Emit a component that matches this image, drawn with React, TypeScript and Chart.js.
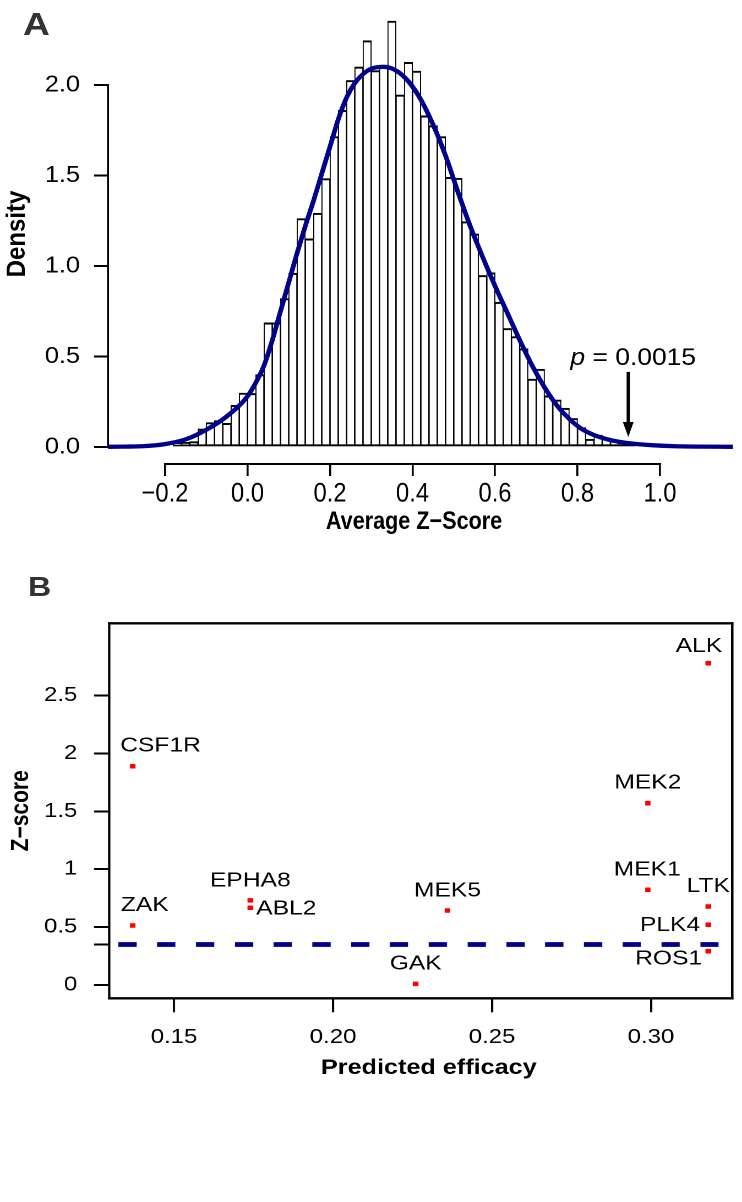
import React, { useEffect, useRef } from "react";
import { Chart, registerables } from "chart.js";

Chart.register(...registerables);

// ---------------- Panel A data ----------------
const binStarts = [
  -0.18, -0.16, -0.14, -0.12, -0.1, -0.08, -0.06, -0.04, -0.02,
  0, 0.02, 0.04, 0.06, 0.08, 0.1, 0.12, 0.14, 0.16, 0.18,
  0.2, 0.22, 0.24, 0.26, 0.28, 0.3, 0.32, 0.34, 0.36, 0.38,
  0.4, 0.42, 0.44, 0.46, 0.48, 0.5, 0.52, 0.54, 0.56, 0.58,
  0.6, 0.62, 0.64, 0.66, 0.68, 0.7, 0.72, 0.74, 0.76, 0.78,
  0.8, 0.82, 0.84, 0.86, 0.88, 0.9, 0.92,
];
const binDensity = [
  0.02, 0.026, 0.03, 0.1, 0.135, 0.146, 0.131, 0.23, 0.298,
  0.296, 0.4, 0.686, 0.686, 0.82, 0.96, 1.262, 1.15, 1.292, 1.483,
  1.715, 1.86, 2.025, 2.1, 2.245, 2.08, 2.11, 2.353, 1.945, 2.125,
  2.077, 1.83, 1.775, 1.715, 1.49, 1.485, 1.245, 1.177, 0.948, 0.963,
  0.8, 0.655, 0.61, 0.543, 0.375, 0.43, 0.283, 0.26, 0.214, 0.158,
  0.107, 0.043, 0.066, 0.048, 0.039, 0.03, 0.02,
];
const BIN_WIDTH = 0.02;

const curveZ = [
  -0.338, -0.3, -0.25, -0.2, -0.15, -0.1, -0.05, 0, 0.02, 0.04, 0.06, 0.08,
  0.1, 0.12, 0.14, 0.16, 0.18, 0.2, 0.22, 0.24, 0.26, 0.28, 0.3, 0.33, 0.36,
  0.39, 0.42, 0.45, 0.48, 0.51, 0.54, 0.57, 0.6, 0.63, 0.66, 0.69, 0.72, 0.75,
  0.78, 0.81, 0.84, 0.87, 0.9, 0.94, 0.98, 1.03, 1.1, 1.177,
];
const curveDensity = [
  0.001, 0.002, 0.005, 0.016, 0.042, 0.095, 0.17, 0.28, 0.355, 0.45, 0.59, 0.75,
  0.91, 1.07, 1.22, 1.36, 1.51, 1.66, 1.81, 1.93, 2.01, 2.06, 2.09, 2.1, 2.08,
  2.02, 1.92, 1.78, 1.61, 1.41, 1.22, 1.05, 0.89, 0.74, 0.59, 0.45, 0.33, 0.23,
  0.155, 0.1, 0.066, 0.044, 0.029, 0.017, 0.01, 0.005, 0.002, 0.001,
];

const densityTickValues = [0, 0.5, 1, 1.5, 2];
const densityTickLabels = ["0.0", "0.5", "1.0", "1.5", "2.0"];
const avgZTickValues = [-0.2, 0, 0.2, 0.4, 0.6, 0.8, 1.0];
const avgZTickLabels = ["\u22120.2", "0.0", "0.2", "0.4", "0.6", "0.8", "1.0"];
const avgZTitle = "Average Z\u2212Score";

const pValueText = "0.0015";
const pValueZ = 0.923;
const arrowTopDensity = 0.415;
const arrowTipDensity = 0.055;

// ---------------- Panel B data ----------------
const kinases = ["CSF1R", "ZAK", "EPHA8", "ABL2", "MEK5", "GAK", "MEK2", "MEK1", "ALK", "LTK", "PLK4", "ROS1"];
const predictedEfficacy = [0.137, 0.137, 0.174, 0.174, 0.236, 0.226, 0.299, 0.299, 0.318, 0.318, 0.318, 0.318];
const kinaseZScore = [1.889, 0.514, 0.731, 0.667, 0.643, 0.01, 1.57, 0.822, 2.779, 0.678, 0.52, 0.292];

const efficacyTickValues = [0.15, 0.2, 0.25, 0.3];
const efficacyTickLabels = ["0.15", "0.20", "0.25", "0.30"];
const zScoreTickValues = [0, 0.35, 0.5, 1, 1.5, 2, 2.5];
const zScoreTickLabels = ["0", "", "0.5", "1", "1.5", "2", "2.5"];

const thresholdZ = 0.35;
const thresholdFrom = 0.1325;
const thresholdTo = 0.3212;

// ---------------- layout / style ----------------
const FONT = "'Liberation Sans', Arial, Helvetica, sans-serif";
const NAVY = "#00008B";

const WA = 674; // logical width of panel A canvas
const SA = 742 / WA; // horizontal stretch of panel A
const HA = 560;
const WB = 618; // logical width of panel B canvas
const SB = 742 / WB; // horizontal stretch of panel B
const HB = 642;

// label placement relative to the marker (reference pixels): dx, dy, align
const LABEL_POS: Record<string, [number, number, CanvasTextAlign]> = {
  CSF1R: [-12.5, -20.5, "left"],
  ZAK: [-11.8, -20, "left"],
  EPHA8: [0, -19.5, "center"],
  ABL2: [5.9, 1, "left"],
  MEK5: [0, -19.7, "center"],
  GAK: [0, -20, "center"],
  MEK2: [0, -20.2, "center"],
  MEK1: [-0.6, -20, "center"],
  ALK: [-9.3, -17, "center"],
  LTK: [0, -20.2, "center"],
  PLK4: [-8.1, 0.7, "right"],
  ROS1: [-6.1, 7.6, "right"],
};

function zeroPad(s: any) {
  s.paddingTop = 0;
  s.paddingBottom = 0;
  s.paddingLeft = 0;
  s.paddingRight = 0;
}

// draws text horizontally condensed by factor k around (x, y)
function condensedText(ctx: CanvasRenderingContext2D, text: string, x: number, y: number, k: number) {
  ctx.save();
  ctx.translate(x, y);
  ctx.scale(k, 1);
  ctx.fillText(text, 0, 0);
  ctx.restore();
}

const panelAPlugin = {
  id: "panelAExtras",
  afterDatasetsDraw(chart: any) {
    const { ctx, chartArea } = chart;
    const x = chart.scales.x;
    const y = chart.scales.y;
    ctx.save();
    ctx.strokeStyle = "#000";
    ctx.fillStyle = "#000";
    ctx.lineCap = "butt";
    // y axis line (R style: from first to last tick)
    ctx.lineWidth = 2 / SA;
    ctx.beginPath();
    ctx.moveTo(chartArea.left, y.getPixelForValue(densityTickValues[0]) + 1);
    ctx.lineTo(chartArea.left, y.getPixelForValue(densityTickValues[densityTickValues.length - 1]) - 1);
    ctx.stroke();
    // x axis line
    ctx.lineWidth = 2;
    ctx.beginPath();
    ctx.moveTo(x.getPixelForValue(avgZTickValues[0]) - 1 / SA, chartArea.bottom + 1);
    ctx.lineTo(x.getPixelForValue(avgZTickValues[avgZTickValues.length - 1]) + 1 / SA, chartArea.bottom + 1);
    ctx.stroke();
    // x tick labels and title (condensed, as in the original)
    ctx.textAlign = "center";
    ctx.textBaseline = "middle";
    ctx.font = `27px ${FONT}`;
    avgZTickValues.forEach((v, i) => {
      condensedText(ctx, avgZTickLabels[i], x.getPixelForValue(v), chartArea.bottom + 31, 0.8);
    });
    ctx.font = `bold 25px ${FONT}`;
    condensedText(ctx, avgZTitle, 414 / SA, chartArea.bottom + 59, 0.785);
    // arrow
    const ax = x.getPixelForValue(pValueZ);
    const aTop = y.getPixelForValue(arrowTopDensity);
    const aTip = y.getPixelForValue(arrowTipDensity);
    const headLen = 15;
    const headHalf = 5.4 / SA;
    ctx.lineWidth = 3.3 / SA;
    ctx.beginPath();
    ctx.moveTo(ax, aTop);
    ctx.lineTo(ax, aTip - headLen + 2);
    ctx.stroke();
    ctx.beginPath();
    ctx.moveTo(ax - headHalf, aTip - headLen);
    ctx.lineTo(ax + headHalf, aTip - headLen);
    ctx.lineTo(ax, aTip);
    ctx.closePath();
    ctx.fill();
    // p-value text
    const fi = `italic 24px ${FONT}`;
    const fr = `24px ${FONT}`;
    const rest = " = " + pValueText;
    ctx.font = fi;
    const w1 = ctx.measureText("p").width;
    ctx.font = fr;
    const w2 = ctx.measureText(rest).width;
    const cx = ax + 5 / SA;
    const base = aTop - 6.7;
    const sx = cx - (w1 + w2) / 2;
    ctx.textBaseline = "alphabetic";
    ctx.textAlign = "left";
    ctx.font = fi;
    ctx.fillText("p", sx, base);
    ctx.font = fr;
    ctx.fillText(rest, sx + w1, base);
    ctx.restore();
  },
};

const panelBPlugin = {
  id: "panelBExtras",
  afterDatasetsDraw(chart: any) {
    const { ctx, chartArea } = chart;
    const x = chart.scales.x;
    const y = chart.scales.y;
    ctx.save();
    // labels
    ctx.fillStyle = "#000";
    ctx.font = `20.5px ${FONT}`;
    ctx.textBaseline = "middle";
    kinases.forEach((name, i) => {
      const [dx, dy, align] = LABEL_POS[name];
      const px = x.getPixelForValue(predictedEfficacy[i]);
      const py = y.getPixelForValue(kinaseZScore[i]);
      ctx.textAlign = align;
      ctx.fillText(name, px + dx / SB, py + dy);
    });
    // x axis title
    ctx.font = `bold 21px ${FONT}`;
    ctx.textAlign = "center";
    ctx.fillText("Predicted efficacy", (chartArea.left + chartArea.right) / 2 + 8 / SB, 508);
    // box
    ctx.strokeStyle = "#000";
    const { left, right, top, bottom } = chartArea;
    ctx.lineWidth = 2.4;
    ctx.beginPath();
    ctx.moveTo(left - 1, top);
    ctx.lineTo(right + 1, top);
    ctx.moveTo(left - 1, bottom);
    ctx.lineTo(right + 1, bottom);
    ctx.stroke();
    ctx.lineWidth = 2.3 / SB;
    ctx.beginPath();
    ctx.moveTo(left, top - 1);
    ctx.lineTo(left, bottom + 1);
    ctx.moveTo(right, top - 1);
    ctx.lineTo(right, bottom + 1);
    ctx.stroke();
    ctx.restore();
  },
};

function makeChartA(canvas: HTMLCanvasElement) {
  const barData = binStarts.map((s, i) => ({ x: s + BIN_WIDTH / 2, y: binDensity[i] }));
  const curveData = curveZ.map((z, i) => ({ x: z, y: curveDensity[i] }));
  const xMin = (108 - 247.5) / 412.5;
  const xMax = (733 - 247.5) / 412.5;
  return new Chart(canvas, {
    type: "bar",
    data: {
      datasets: [
        {
          type: "line",
          data: curveData,
          borderColor: NAVY,
          borderWidth: 4.3,
          pointRadius: 0,
          cubicInterpolationMode: "monotone",
          order: 0,
        } as any,
        {
          type: "bar",
          data: barData,
          backgroundColor: "#ffffff",
          borderColor: "#000000",
          borderWidth: { top: 2, left: 1, right: 1, bottom: 2 },
          borderSkipped: false,
          barPercentage: 1,
          categoryPercentage: 1,
          order: 1,
        } as any,
      ],
    },
    options: {
      responsive: false,
      animation: false,
      devicePixelRatio: 2,
      events: [],
      layout: { padding: { left: 0, right: 9 / SA, top: 5, bottom: 20 } },
      plugins: { legend: { display: false }, tooltip: { enabled: false } },
      scales: {
        x: {
          type: "linear",
          offset: false,
          min: xMin,
          max: xMax,
          afterBuildTicks: (s: any) => {
            s.ticks = avgZTickValues.map((v) => ({ value: v }));
          },
          afterFit: (s: any) => {
            s.height = 77;
            zeroPad(s);
          },
          ticks: { display: false, autoSkip: false, maxRotation: 0 },
          grid: { offset: false, drawOnChartArea: false, drawTicks: true, tickLength: 13, color: "#000", lineWidth: 2 / SA },
          border: { display: false },
          title: { display: false },
        },
        y: {
          type: "linear",
          min: (447 - 463) / 181,
          max: (447 - 5) / 181,
          afterBuildTicks: (s: any) => {
            s.ticks = densityTickValues.map((v) => ({ value: v }));
          },
          afterFit: (s: any) => {
            s.width = 108 / SA;
            zeroPad(s);
          },
          ticks: {
            callback: (_v: any, i: number) => densityTickLabels[i],
            font: { family: FONT, size: 23 },
            color: "#000",
            padding: 14 / SA,
            autoSkip: false,
          },
          grid: { drawOnChartArea: false, drawTicks: true, tickLength: 14 / SA, color: "#000", lineWidth: 2 },
          border: { display: false },
          title: {
            display: true,
            text: "Density",
            font: { family: FONT, size: 24, weight: "bold" },
            color: "#000",
            padding: { top: Math.max(0, 17.5 / SA - 14.4), bottom: 0 },
          },
        },
      },
    } as any,
    plugins: [panelAPlugin],
  });
}

function makeChartB(canvas: HTMLCanvasElement) {
  const pts = predictedEfficacy.map((e, i) => ({ x: e, y: kinaseZScore[i] }));
  const threshold = [
    { x: thresholdFrom, y: thresholdZ },
    { x: thresholdTo, y: thresholdZ },
  ];
  const xMin = 0.15 + (109.3 - 174) / 3180;
  const xMax = 0.15 + (732.3 - 174) / 3180;
  const yMin = (985 - 998.3) / 115.8;
  const yMax = (985 - 623.3) / 115.8;
  return new Chart(canvas, {
    type: "scatter",
    data: {
      datasets: [
        {
          type: "scatter",
          data: pts,
          pointStyle: "rect",
          pointRadius: 3.2,
          backgroundColor: "#ff0000",
          borderWidth: 0,
          order: 0,
        } as any,
        {
          type: "line",
          data: threshold,
          borderColor: NAVY,
          borderWidth: 4.7,
          borderDash: [18.3 / SB, 20.5 / SB],
          pointRadius: 0,
          order: 1,
        } as any,
      ],
    },
    options: {
      responsive: false,
      animation: false,
      devicePixelRatio: 2,
      events: [],
      layout: { padding: { left: 0, right: (742 - 732.3) / SB, top: 63.3, bottom: 102 } },
      plugins: { legend: { display: false }, tooltip: { enabled: false } },
      scales: {
        x: {
          type: "linear",
          offset: false,
          min: xMin,
          max: xMax,
          afterBuildTicks: (s: any) => {
            s.ticks = efficacyTickValues.map((v) => ({ value: v }));
          },
          afterFit: (s: any) => {
            s.height = 540 - 438.3;
            zeroPad(s);
          },
          ticks: {
            callback: (_v: any, i: number) => efficacyTickLabels[i],
            font: { family: FONT, size: 20 },
            color: "#000",
            padding: 13.2,
            maxRotation: 0,
            autoSkip: false,
          },
          grid: { offset: false, drawOnChartArea: false, drawTicks: true, tickLength: 14, color: "#000", lineWidth: 2 / SB },
          border: { display: false },
          title: { display: false },
        },
        y: {
          type: "linear",
          min: yMin,
          max: yMax,
          afterBuildTicks: (s: any) => {
            s.ticks = zScoreTickValues.map((v) => ({ value: v }));
          },
          afterFit: (s: any) => {
            s.width = 109.3 / SB;
            zeroPad(s);
          },
          ticks: {
            callback: (_v: any, i: number) => zScoreTickLabels[i],
            font: { family: FONT, size: 20 },
            color: "#000",
            padding: 16.7 / SB,
            autoSkip: false,
          },
          grid: { drawOnChartArea: false, drawTicks: true, tickLength: 15.3 / SB, color: "#000", lineWidth: 2 },
          border: { display: false },
          title: {
            display: true,
            text: "Z\u2212score",
            font: { family: FONT, size: 21, weight: "bold" },
            color: "#000",
            padding: { top: 21 / SB - 12.6, bottom: 0 },
          },
        },
      },
    } as any,
    plugins: [panelBPlugin],
  });
}

export default function App() {
  const refA = useRef<HTMLCanvasElement | null>(null);
  const refB = useRef<HTMLCanvasElement | null>(null);

  useEffect(() => {
    const a = refA.current ? makeChartA(refA.current) : null;
    const b = refB.current ? makeChartB(refB.current) : null;
    return () => {
      if (a) a.destroy();
      if (b) b.destroy();
    };
  }, []);

  const panelLabel = (top: number, left: number, size: number, sx: number): React.CSSProperties => ({
    position: "absolute",
    top,
    left,
    fontFamily: FONT,
    fontWeight: "bold",
    fontSize: size,
    lineHeight: `${size}px`,
    color: "#333333",
    transform: `scaleX(${sx})`,
    transformOrigin: "left top",
    margin: 0,
  });

  return (
    <div style={{ position: "absolute", left: 0, top: 0, width: 742, height: 1202, background: "#ffffff", overflow: "hidden" }}>
      <canvas
        ref={refA}
        width={WA}
        height={HA}
        style={{ position: "absolute", left: 0, top: 0, width: "742px", height: `${HA}px` }}
      />
      <canvas
        ref={refB}
        width={WB}
        height={HB}
        style={{ position: "absolute", left: 0, top: `${HA}px`, width: "742px", height: `${HB}px` }}
      />
      <div style={panelLabel(9, 23, 31, 1.2)}>A</div>
      <div style={panelLabel(573, 28, 28, 1.15)}>B</div>
    </div>
  );
}
